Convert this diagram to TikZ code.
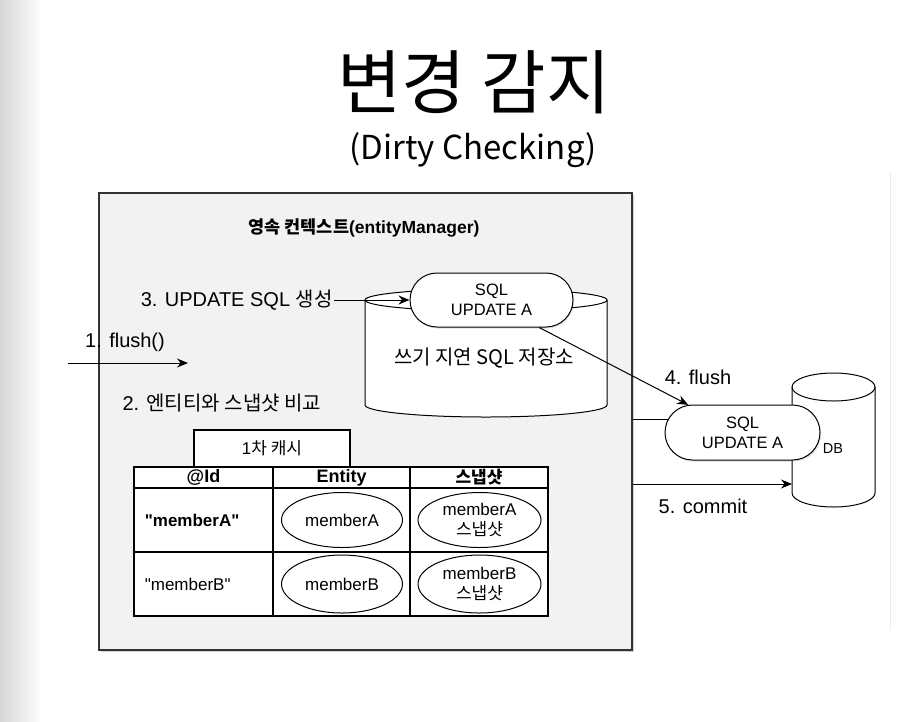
\documentclass[tikz,border=0pt]{standalone}
\usepackage{fontspec}
\setmainfont{Liberation Sans}
\newfontfamily\kr{Noto Sans CJK KR}
\newfontfamily\qfont{Liberation Sans}
\usepackage{tikz}
\usetikzlibrary{positioning, arrows.meta, shapes.geometric, shapes.misc, shadows}

\tikzset{
  lbl/.style={font=\fontsize{20}{22}\selectfont, inner sep=1pt},
  pill/.style={draw, fill=white, rounded rectangle, align=center, inner sep=0pt,
    font=\fontsize{16.5}{20}\selectfont,
    drop shadow={shadow xshift=1pt, shadow yshift=-1.5pt, opacity=0.25}},
  cell/.style={draw, fill=white, line width=1.2pt, inner sep=0pt, font=\fontsize{17}{19}\selectfont},
  oval/.style={draw, ellipse, align=center, inner sep=0pt, font=\fontsize{17}{20}\selectfont},
}

\begin{document}
\begin{tikzpicture}[x=1pt, y=1pt, >={Stealth[length=11pt, width=9pt]}, line width=1pt]
        \useasboundingbox (0,0) rectangle (915,-721);
        \fill[white] (0,0) rectangle (915,-721);
        \shade[left color=black!16, right color=white] (0,0) rectangle (42,-721);
        \draw[black!8] (890,-173) -- (890,-630);

        % Titles
        \node (title) at (474,-82) {\kr\fontsize{70}{76}\selectfont 변경 감지};
        \node (subtitle) at (473,-150) {\kr\fontsize{33}{36}\selectfont (Dirty Checking)};

        % Persistence context
        \node (pc) [draw=black!80, fill=black!5, line width=1.5pt, minimum width=533, minimum height=457,
          drop shadow={shadow xshift=1.5pt, shadow yshift=-1.5pt, opacity=0.35}] at (365.5,-421.5) {};
        \node (pctitle) [font=\fontsize{17.5}{19}\selectfont\bfseries] at (364,-228) {{\kr 영속 컨텍스트}(entityManager)};

        % Write-behind store
        \draw[fill=white] (365,-300) -- (365,-405) arc[start angle=180, end angle=360, x radius=121pt, y radius=12pt]
          -- (607,-300) arc[start angle=0, end angle=180, x radius=121pt, y radius=11pt] -- cycle;
        \draw (365,-300) arc[start angle=180, end angle=360, x radius=121pt, y radius=11pt];
        \node (store) [font=\kr\fontsize{20}{22}\selectfont] at (484,-358) {쓰기 지연 SQL 저장소};
        \node (sql1) [pill, minimum width=163, minimum height=54] at (491.5,-300) {SQL\\UPDATE A};

        % Steps inside
        \node (upd) [lbl, anchor=east] at (334,-300) {3. UPDATE SQL {\kr 생성}};
        \draw[->] (upd.east) -- (sql1.west);
        \coordinate (in) at (68,-363);
        \coordinate (cmp) at (188,-363);
        \draw[->] (in) -- (cmp);
        \node (flush1) [lbl] at (125,-342) {1. flush()};
        \node (compare) [lbl, anchor=west] at (121,-403) {2. {\kr 엔티티와 스냅샷 비교}};

        % First-level cache
        \node (cache) [cell, minimum width=156, minimum height=37] at (272,-448.5) {1{\kr 차 캐시}};
        \node (hid) [cell, minimum width=139, minimum height=21, font=\fontsize{18}{19}\selectfont\bfseries] at (203.5,-477.5) {@Id};
        \node (hent) [cell, minimum width=137, minimum height=21, font=\fontsize{18}{19}\selectfont\bfseries] at (341.5,-477.5) {Entity};
        \node (hsnap) [cell, minimum width=138, minimum height=21, font=\fontsize{17}{19}\selectfont\bfseries\kr] at (479,-477.5) {스냅샷};
        \node (ida) [cell, minimum width=139, minimum height=64] at (203.5,-520) {};
        \node (enta) [cell, minimum width=137, minimum height=64] at (341.5,-520) {};
        \node (snapa) [cell, minimum width=138, minimum height=64] at (479,-520) {};
        \node (idb) [cell, minimum width=139, minimum height=64] at (203.5,-584) {};
        \node (entb) [cell, minimum width=137, minimum height=64] at (341.5,-584) {};
        \node (snapb) [cell, minimum width=138, minimum height=64] at (479,-584) {};

        \node (keya) [anchor=west, font=\fontsize{17}{19}\selectfont\bfseries\qfont] at (141,-520) {"memberA"};
        \node (keyb) [anchor=west, font=\fontsize{17}{19}\selectfont\qfont] at (141,-584) {"memberB"};
        \node (ea) [oval, minimum width=121, minimum height=55] at (342,-520) {memberA};
        \node (sa) [oval, minimum width=123, minimum height=55] at (479.5,-520) {memberA\\{\kr 스냅샷}};
        \node (eb) [oval, minimum width=121, minimum height=58] at (342,-584) {memberB};
        \node (sb) [oval, minimum width=123, minimum height=58] at (479.5,-584) {memberB\\{\kr 스냅샷}};

        % Database
        \draw[fill=white] (792,-387) -- (792,-493) arc[start angle=180, end angle=360, x radius=41.5pt, y radius=14pt]
          -- (875,-387) arc[start angle=0, end angle=180, x radius=41.5pt, y radius=14pt] -- cycle;
        \draw (792,-387) arc[start angle=180, end angle=360, x radius=41.5pt, y radius=14pt];
        \node (db) [font=\fontsize{14.5}{16}\selectfont] at (833,-449) {DB};
        \coordinate (dbw) at (792,-484);
        \node (sql2) [pill, minimum width=155, minimum height=55] at (742.5,-432.5) {SQL\\UPDATE A};

        % Arrows
        \draw (pc.east |- sql2.170) -- (sql2.170);
        \draw[->] (sql1.330) -- (sql2.153);
        \draw[->] (pc.east |- dbw) -- (dbw);
        \node (flush4) [lbl] at (698,-377) {4. flush};
        \node (commit) [lbl] at (703,-506) {5. commit};

    \end{tikzpicture}
\end{document}
